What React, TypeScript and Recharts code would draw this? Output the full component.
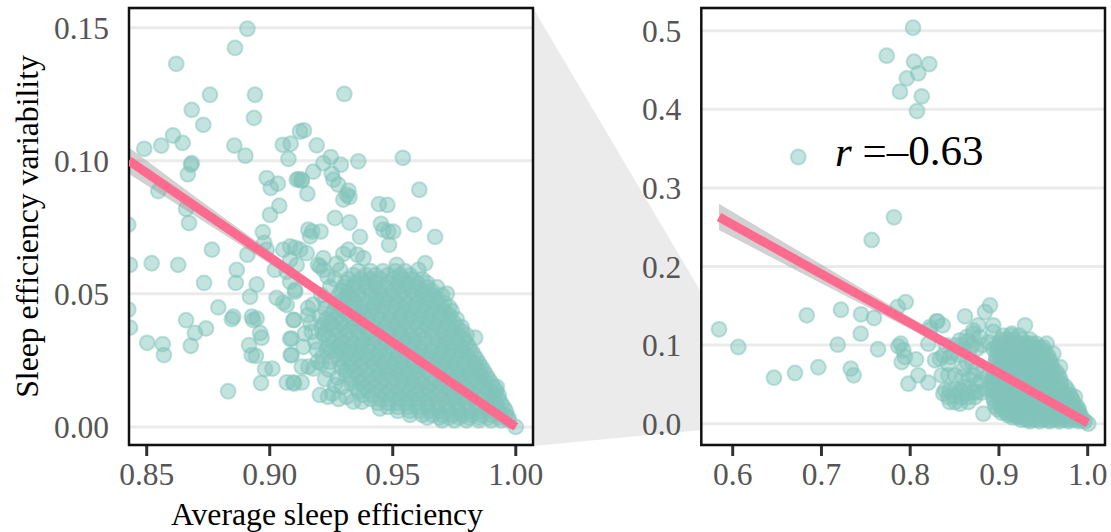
import React from 'react'
import {
  ComposedChart,
  Scatter,
  Line,
  Area,
  XAxis,
  YAxis,
  CartesianGrid,
  ReferenceArea,
  ReferenceDot,
  Label
} from 'recharts'

type Pt = [number, number]
type Row = [number, number[]]

const leftXTicks = [0.85, 0.9, 0.95, 1]
const leftYTicks = [0, 0.05, 0.1, 0.15]
const rightXTicks = [0.6, 0.7, 0.8, 0.9, 1]
const rightYTicks = [0, 0.1, 0.2, 0.3, 0.4, 0.5]

// sparse points
const leftScatter: Pt[] = [
  [0.8909, 0.1496], [0.8859, 0.1424], [0.862, 0.1364], [0.8757, 0.1248], [0.894, 0.1248], [0.8683, 0.1191],
  [0.8936, 0.1161], [0.873, 0.1135], [0.8607, 0.1095], [0.8646, 0.1067], [0.849, 0.1045], [0.8559, 0.1057],
  [0.8856, 0.1057], [0.8901, 0.1019], [0.8683, 0.0991], [0.868, 0.0985], [0.8667, 0.0949], [0.8547, 0.0886],
  [0.866, 0.0819], [0.8672, 0.0766], [0.8425, 0.076], [0.8765, 0.0666], [0.8909, 0.0647], [0.8988, 0.0935],
  [0.9004, 0.0898], [0.9033, 0.0914], [0.9039, 0.0831], [0.9001, 0.0797], [0.8972, 0.0732], [0.8978, 0.0691],
  [0.8988, 0.0666], [0.9053, 0.106], [0.9085, 0.1064], [0.9076, 0.1007], [0.911, 0.0929], [0.913, 0.0929],
  [0.9123, 0.111], [0.9303, 0.1251], [0.9139, 0.1114], [0.9191, 0.1058], [0.9248, 0.1014], [0.9218, 0.0991],
  [0.9289, 0.0985], [0.936, 0.0998], [0.9541, 0.1011], [0.9177, 0.0959], [0.9117, 0.0931], [0.913, 0.0925],
  [0.9153, 0.0876], [0.9252, 0.0951], [0.9259, 0.0929], [0.9279, 0.091], [0.932, 0.0888], [0.9299, 0.0854],
  [0.9324, 0.0864], [0.9313, 0.0872], [0.9608, 0.0891], [0.9444, 0.0837], [0.9478, 0.0834], [0.9265, 0.0785],
  [0.9324, 0.0768], [0.9587, 0.076], [0.9452, 0.0763], [0.9462, 0.0741], [0.9482, 0.0734], [0.9502, 0.0734],
  [0.9485, 0.0684], [0.9672, 0.0714], [0.9367, 0.0714], [0.9157, 0.0741], [0.9173, 0.0734], [0.9207, 0.0734],
  [0.9164, 0.0716], [0.932, 0.0666], [0.9299, 0.065], [0.9381, 0.0634], [0.9356, 0.0647], [0.9083, 0.0678],
  [0.9123, 0.0666], [0.915, 0.0653], [0.9218, 0.0634], [0.9516, 0.0609], [0.9632, 0.0615], [0.9604, 0.059],
  [0.9205, 0.0603], [0.9286, 0.059], [0.8432, 0.0609], [0.852, 0.0615], [0.8628, 0.0609], [0.8866, 0.059],
  [0.9055, 0.0666], [0.9103, 0.0673], [0.9021, 0.059], [0.9083, 0.0628], [0.8733, 0.0541], [0.8862, 0.0541],
  [0.8947, 0.0535], [0.892, 0.0489], [0.9083, 0.0545], [0.9103, 0.0508], [0.9028, 0.0485], [0.9055, 0.0467],
  [0.8791, 0.0449], [0.8425, 0.0441], [0.8432, 0.0373], [0.866, 0.0401], [0.8741, 0.037], [0.8696, 0.0353],
  [0.8679, 0.0305], [0.8502, 0.0316], [0.8565, 0.0311], [0.857, 0.027], [0.8852, 0.0414], [0.8846, 0.0405],
  [0.8927, 0.0414], [0.8947, 0.0407], [0.8933, 0.0401], [0.8961, 0.0353], [0.8967, 0.0335], [0.8916, 0.0307],
  [0.8927, 0.027], [0.8944, 0.0267], [0.8981, 0.0217], [0.9011, 0.0219], [0.8965, 0.0165], [0.8831, 0.0134],
  [0.9069, 0.0167], [0.9099, 0.0163], [0.9096, 0.0401], [0.9089, 0.0332], [0.9085, 0.027], [0.913, 0.0226],
  [0.9069, 0.0458], [0.9103, 0.0515], [0.9156, 0.0447], [0.9156, 0.042], [0.9099, 0.0402], [0.9083, 0.0331],
  [0.9089, 0.027], [0.9096, 0.0167], [0.913, 0.0167], [0.9204, 0.012], [0.9237, 0.0113], [0.9313, 0.0113],
  [0.9374, 0.0094], [0.9448, 0.0069], [0.9265, 0.0158], [0.9293, 0.015], [0.9171, 0.0357], [0.9218, 0.0351],
  [0.9143, 0.0351], [0.9137, 0.0301], [0.9191, 0.029], [0.9232, 0.0294], [0.9157, 0.0226], [0.9177, 0.0219],
  [0.9211, 0.0238], [0.9245, 0.0244], [0.9069, 0.0583], [0.911, 0.0608], [0.9176, 0.0459], [0.9218, 0.059],
  [0.9272, 0.0613], [0.9196, 0.0609], [0.972, 0.0501], [0.9835, 0.0335], [0.9923, 0.015], [1.0, 0.0],
  [0.9165, 0.039], [0.9205, 0.0415], [0.9225, 0.0445], [0.922, 0.0385], [0.9185, 0.032], [0.9215, 0.0265],
  [0.9195, 0.0245], [0.9225, 0.018], [0.924, 0.0215], [0.9255, 0.0125], [0.9275, 0.0185], [0.921, 0.0495],
  [0.9245, 0.0525], [0.9265, 0.0555], [0.9235, 0.0565], [0.9225, 0.0475], [0.928, 0.0105], [0.934, 0.0095]
]

// dense part of the left cloud, one estimated row per y value
const leftCloud: Row[] = [
  [0.0585, [0.936, 0.941, 0.946, 0.951, 0.955]],
  [0.057, [0.934, 0.939, 0.943, 0.948, 0.953, 0.957]],
  [0.0555, [0.932, 0.937, 0.941, 0.945, 0.95, 0.954, 0.958, 0.962]],
  [0.054, [0.931, 0.935, 0.939, 0.943, 0.948, 0.952, 0.956, 0.96, 0.964]],
  [0.0525, [0.93, 0.934, 0.939, 0.943, 0.947, 0.952, 0.956, 0.96, 0.964, 0.968]],
  [0.051, [0.929, 0.932, 0.936, 0.941, 0.945, 0.95, 0.954, 0.958, 0.962, 0.966]],
  [0.0495, [0.928, 0.932, 0.936, 0.941, 0.945, 0.949, 0.953, 0.958, 0.962, 0.966, 0.97]],
  [0.048, [0.93, 0.934, 0.938, 0.943, 0.947, 0.951, 0.955, 0.96, 0.964, 0.968]],
  [0.0465, [0.927, 0.931, 0.935, 0.94, 0.944, 0.948, 0.952, 0.956, 0.96, 0.964, 0.968, 0.971]],
  [0.045, [0.929, 0.933, 0.937, 0.942, 0.946, 0.95, 0.954, 0.958, 0.962, 0.966, 0.97, 0.973]],
  [0.0435, [0.926, 0.93, 0.934, 0.938, 0.942, 0.946, 0.951, 0.955, 0.959, 0.963, 0.967, 0.971, 0.974]],
  [0.042, [0.925, 0.928, 0.932, 0.936, 0.94, 0.944, 0.949, 0.953, 0.957, 0.961, 0.965, 0.969, 0.973]],
  [0.0405, [0.923, 0.927, 0.932, 0.936, 0.94, 0.945, 0.949, 0.953, 0.957, 0.961, 0.965, 0.969, 0.973, 0.976]],
  [0.039, [0.925, 0.929, 0.934, 0.938, 0.942, 0.947, 0.951, 0.955, 0.959, 0.963, 0.967, 0.971, 0.975]],
  [0.0375, [0.921, 0.926, 0.93, 0.934, 0.938, 0.943, 0.947, 0.951, 0.955, 0.96, 0.964, 0.968, 0.972, 0.976, 0.978]],
  [0.036, [0.923, 0.928, 0.932, 0.936, 0.94, 0.945, 0.949, 0.953, 0.957, 0.962, 0.966, 0.97, 0.974, 0.978]],
  [0.0345, [0.922, 0.927, 0.931, 0.936, 0.94, 0.944, 0.949, 0.953, 0.957, 0.961, 0.966, 0.97, 0.974, 0.977, 0.98]],
  [0.033, [0.924, 0.929, 0.933, 0.938, 0.942, 0.946, 0.951, 0.955, 0.959, 0.963, 0.968, 0.972, 0.976, 0.979]],
  [0.0315, [0.926, 0.93, 0.934, 0.938, 0.942, 0.947, 0.951, 0.955, 0.959, 0.963, 0.968, 0.972, 0.976, 0.98]],
  [0.03, [0.924, 0.928, 0.932, 0.936, 0.94, 0.945, 0.949, 0.953, 0.957, 0.961, 0.966, 0.97, 0.974, 0.978, 0.981]],
  [0.0285, [0.925, 0.929, 0.933, 0.937, 0.941, 0.945, 0.95, 0.954, 0.958, 0.962, 0.966, 0.97, 0.974, 0.978, 0.982]],
  [0.027, [0.927, 0.931, 0.935, 0.939, 0.943, 0.947, 0.952, 0.956, 0.96, 0.964, 0.968, 0.972, 0.976, 0.98, 0.983]],
  [0.0255, [0.928, 0.932, 0.936, 0.94, 0.944, 0.948, 0.952, 0.956, 0.961, 0.965, 0.969, 0.973, 0.977, 0.981, 0.984]],
  [0.024, [0.93, 0.934, 0.938, 0.942, 0.946, 0.95, 0.954, 0.958, 0.963, 0.967, 0.971, 0.975, 0.979, 0.983, 0.985]],
  [0.0225, [0.929, 0.933, 0.937, 0.942, 0.946, 0.95, 0.954, 0.958, 0.962, 0.967, 0.971, 0.975, 0.979, 0.983, 0.986]],
  [0.021, [0.931, 0.935, 0.939, 0.944, 0.948, 0.952, 0.956, 0.96, 0.964, 0.969, 0.973, 0.977, 0.981, 0.985, 0.987]],
  [0.0195, [0.931, 0.936, 0.94, 0.944, 0.948, 0.952, 0.956, 0.96, 0.965, 0.969, 0.973, 0.977, 0.981, 0.985, 0.988]],
  [0.018, [0.933, 0.938, 0.942, 0.946, 0.95, 0.954, 0.958, 0.962, 0.967, 0.971, 0.975, 0.979, 0.983, 0.987, 0.989]],
  [0.0165, [0.933, 0.937, 0.941, 0.945, 0.95, 0.954, 0.958, 0.962, 0.966, 0.97, 0.974, 0.978, 0.982, 0.986, 0.99]],
  [0.015, [0.935, 0.939, 0.943, 0.947, 0.952, 0.956, 0.96, 0.964, 0.968, 0.972, 0.976, 0.98, 0.984, 0.988, 0.991]],
  [0.0135, [0.936, 0.94, 0.945, 0.949, 0.953, 0.957, 0.961, 0.965, 0.969, 0.973, 0.977, 0.981, 0.985, 0.989, 0.992]],
  [0.012, [0.938, 0.942, 0.947, 0.951, 0.955, 0.959, 0.963, 0.967, 0.971, 0.975, 0.979, 0.983, 0.987, 0.991, 0.993]],
  [0.0105, [0.941, 0.945, 0.949, 0.953, 0.957, 0.961, 0.965, 0.97, 0.974, 0.978, 0.982, 0.986, 0.99, 0.993]],
  [0.009, [0.944, 0.948, 0.952, 0.956, 0.96, 0.964, 0.968, 0.972, 0.976, 0.98, 0.984, 0.988, 0.992, 0.994]],
  [0.0075, [0.948, 0.952, 0.956, 0.96, 0.964, 0.968, 0.972, 0.976, 0.98, 0.984, 0.988, 0.992, 0.995]],
  [0.006, [0.952, 0.957, 0.961, 0.965, 0.969, 0.973, 0.977, 0.981, 0.985, 0.989, 0.993, 0.996]],
  [0.0045, [0.957, 0.962, 0.966, 0.97, 0.974, 0.978, 0.982, 0.986, 0.99, 0.994, 0.996]],
  [0.0035, [0.964, 0.969, 0.973, 0.977, 0.981, 0.985, 0.989, 0.993, 0.997]],
  [0.0025, [0.97, 0.975, 0.98, 0.985, 0.99, 0.994, 0.997]]
]

const rightScatter: Pt[] = [
  [0.8032, 0.5038], [0.7735, 0.4682], [0.8043, 0.4606], [0.8215, 0.4576], [0.8091, 0.4458], [0.7961, 0.4394],
  [0.7885, 0.4224], [0.813, 0.4165], [0.8077, 0.3978], [0.6739, 0.3393], [0.7817, 0.2626], [0.7566, 0.2337],
  [0.5846, 0.1201], [0.6063, 0.0976], [0.6465, 0.0585], [0.6702, 0.0645], [0.6965, 0.0718], [0.6834, 0.1379],
  [0.722, 0.145], [0.7446, 0.1392], [0.7592, 0.1345], [0.7442, 0.1145], [0.7183, 0.1005], [0.7637, 0.0947],
  [0.733, 0.07], [0.7363, 0.0616], [0.7859, 0.1485], [0.7949, 0.1548], [0.7893, 0.1018], [0.7866, 0.0985],
  [0.7922, 0.0934], [0.7904, 0.0785], [0.7941, 0.0849], [0.8065, 0.0819], [0.8091, 0.0616], [0.7979, 0.0509],
  [0.8204, 0.0522], [0.8204, 0.1018], [0.8223, 0.123], [0.8298, 0.1303], [0.8306, 0.1303], [0.8366, 0.1252],
  [0.8223, 0.1192], [0.8336, 0.0827], [0.828, 0.0807], [0.8373, 0.087], [0.8429, 0.0763], [0.8355, 0.0616],
  [0.8429, 0.0616], [0.8505, 0.0616], [0.8591, 0.0594], [0.8663, 0.0573], [0.8392, 0.0425], [0.8373, 0.0382],
  [0.8429, 0.034], [0.8505, 0.0276], [0.8561, 0.0254], [0.8655, 0.0276], [0.873, 0.034], [0.8617, 0.1366],
  [0.8899, 0.1506], [0.8843, 0.1421], [0.8936, 0.1252], [0.8936, 0.1167], [0.8767, 0.1252], [0.8711, 0.1188],
  [0.9294, 0.1252], [0.9538, 0.1018], [0.9613, 0.0891], [0.9688, 0.0721], [0.9857, 0.034], [1.0007, 0.0],
  [0.8824, 0.0127], [0.8561, 0.1061], [0.8637, 0.1103], [0.8711, 0.1145], [0.8505, 0.0997], [0.8598, 0.0954],
  [0.8663, 0.0912], [0.875, 0.0954], [0.8637, 0.0785], [0.888, 0.1039], [0.8936, 0.0954], [0.9144, 0.1145],
  [0.8787, 0.053], [0.8711, 0.0616], [0.8824, 0.0658], [0.8862, 0.0445], [0.875, 0.0403], [0.8637, 0.0382],
  [0.8561, 0.0425], [0.8445, 0.0425], [0.8505, 0.0352], [0.8575, 0.0335], [0.8645, 0.0335], [0.8715, 0.0405],
  [0.8445, 0.0275], [0.8575, 0.0405], [0.8505, 0.0435], [0.8615, 0.0465], [0.8745, 0.0495], [0.8805, 0.0395],
  [0.858, 0.1], [0.865, 0.105], [0.87, 0.1], [0.878, 0.11], [0.882, 0.1], [0.855, 0.088],
  [0.848, 0.09], [0.86, 0.07], [0.87, 0.078], [0.875, 0.07], [0.888, 0.06], [0.845, 0.085], [0.84, 0.1]
]

const rightCloud: Row[] = [
  [0.112, [0.905, 0.914, 0.923]],
  [0.107, [0.902, 0.909, 0.917, 0.926, 0.935]],
  [0.102, [0.9, 0.906, 0.911, 0.916, 0.921, 0.927, 0.932, 0.937, 0.942]],
  [0.097, [0.899, 0.904, 0.91, 0.915, 0.921, 0.926, 0.931, 0.936, 0.941, 0.946, 0.95]],
  [0.092, [0.898, 0.903, 0.908, 0.913, 0.919, 0.924, 0.93, 0.936, 0.941, 0.946, 0.951]],
  [0.087, [0.897, 0.902, 0.907, 0.912, 0.918, 0.923, 0.929, 0.934, 0.94, 0.945, 0.95, 0.955]],
  [0.082, [0.897, 0.902, 0.907, 0.912, 0.918, 0.923, 0.929, 0.934, 0.94, 0.945, 0.95, 0.954, 0.957]],
  [0.077, [0.896, 0.901, 0.906, 0.912, 0.917, 0.923, 0.928, 0.934, 0.939, 0.945, 0.95, 0.955, 0.959]],
  [0.072, [0.896, 0.901, 0.906, 0.911, 0.917, 0.922, 0.928, 0.933, 0.939, 0.944, 0.95, 0.955, 0.96]],
  [0.067, [0.895, 0.9, 0.905, 0.911, 0.916, 0.922, 0.927, 0.933, 0.938, 0.944, 0.949, 0.955, 0.96, 0.964]],
  [0.062, [0.894, 0.899, 0.905, 0.91, 0.916, 0.921, 0.927, 0.932, 0.938, 0.943, 0.949, 0.954, 0.96, 0.967]],
  [0.057, [0.893, 0.899, 0.904, 0.91, 0.915, 0.921, 0.926, 0.932, 0.937, 0.943, 0.948, 0.954, 0.96, 0.965, 0.969]],
  [0.052, [0.893, 0.898, 0.904, 0.909, 0.915, 0.92, 0.926, 0.931, 0.937, 0.942, 0.948, 0.953, 0.959, 0.965, 0.97]],
  [0.047, [0.893, 0.898, 0.904, 0.909, 0.915, 0.92, 0.926, 0.931, 0.937, 0.942, 0.948, 0.953, 0.959, 0.965, 0.97, 0.975]],
  [0.042, [0.893, 0.898, 0.904, 0.909, 0.915, 0.92, 0.926, 0.931, 0.937, 0.942, 0.948, 0.953, 0.959, 0.965, 0.97, 0.978]],
  [0.037, [0.893, 0.899, 0.905, 0.91, 0.916, 0.921, 0.927, 0.932, 0.938, 0.943, 0.949, 0.954, 0.96, 0.966, 0.971, 0.976, 0.98]],
  [0.032, [0.894, 0.9, 0.905, 0.911, 0.916, 0.922, 0.927, 0.933, 0.938, 0.944, 0.949, 0.955, 0.96, 0.966, 0.971, 0.977, 0.982]],
  [0.027, [0.895, 0.901, 0.906, 0.912, 0.917, 0.923, 0.928, 0.934, 0.939, 0.945, 0.95, 0.956, 0.961, 0.967, 0.972, 0.978, 0.984]],
  [0.022, [0.896, 0.902, 0.907, 0.913, 0.918, 0.924, 0.929, 0.935, 0.94, 0.946, 0.951, 0.957, 0.962, 0.968, 0.973, 0.979, 0.984, 0.988]],
  [0.018, [0.899, 0.905, 0.91, 0.916, 0.921, 0.927, 0.932, 0.938, 0.943, 0.949, 0.954, 0.96, 0.965, 0.971, 0.976, 0.982, 0.987, 0.99]],
  [0.014, [0.903, 0.909, 0.914, 0.92, 0.925, 0.931, 0.936, 0.942, 0.947, 0.953, 0.958, 0.964, 0.969, 0.975, 0.98, 0.986, 0.99]],
  [0.011, [0.91, 0.916, 0.921, 0.927, 0.932, 0.938, 0.943, 0.949, 0.954, 0.96, 0.965, 0.971, 0.976, 0.982, 0.987, 0.992]],
  [0.008, [0.915, 0.921, 0.926, 0.932, 0.937, 0.943, 0.948, 0.954, 0.959, 0.965, 0.97, 0.976, 0.981, 0.987, 0.992]],
  [0.005, [0.925, 0.931, 0.937, 0.943, 0.949, 0.955, 0.961, 0.967, 0.973, 0.979, 0.985, 0.991, 0.995]],
  [0.003, [0.935, 0.946, 0.957, 0.968, 0.979, 0.99, 0.997]]
]

// regression fit and its confidence band
const leftFit = [
  { x: 0.8428, fit: 0.1, band: [0.095, 0.105] },
  { x: 0.87, fit: 0.0827, band: [0.0791, 0.0863] },
  { x: 0.9, fit: 0.0637, band: [0.0613, 0.0661] },
  { x: 0.93, fit: 0.0445, band: [0.0432, 0.0458] },
  { x: 0.96, fit: 0.0254, band: [0.0245, 0.0263] },
  { x: 1, fit: 0, band: [-0.0012, 0.0012] }
]

const rightFit = [
  { x: 0.5845, fit: 0.263, band: [0.2463, 0.2797] },
  { x: 0.7, fit: 0.1905, band: [0.1785, 0.2025] },
  { x: 0.8, fit: 0.128, band: [0.1205, 0.1355] },
  { x: 0.9, fit: 0.0645, band: [0.06, 0.069] },
  { x: 1, fit: 0.001, band: [-0.003, 0.005] }
]

const toPoints = (scatter: Pt[], cloud: Row[]) => [
  ...scatter.map(([x, y]) => ({ x, y })),
  ...cloud.flatMap(([y, xs]) => xs.map(x => ({ x, y })))
]

const SERIF = '"Liberation Serif", serif'
const tickStyle = { fontFamily: SERIF, fontSize: 31.5, fill: '#555555' }
const titleStyle = { fontFamily: SERIF, fontSize: 31.7, fill: '#000' }

const Dot = (props: any) => (
  <circle
    cx={props.cx}
    cy={props.cy}
    r={7.4}
    fill="#82c4bb"
    fillOpacity={0.48}
    stroke="#82c4bb"
    strokeOpacity={0.5}
    strokeWidth={2}
  />
)

const RLabel = (props: any) => {
  const { x, y } = props.viewBox
  return (
    <text x={x} y={y} textAnchor="middle" dominantBaseline="central" fontFamily={SERIF} fontSize={43} fill="#000">
      <tspan fontStyle="italic">r</tspan> =–0.63
    </text>
  )
}

interface PanelProps {
  width: number
  yAxisWidth: number
  marginRight: number
  xDomain: [number, number]
  yDomain: [number, number]
  xTicks: number[]
  yTicks: number[]
  digits: number
  points: { x: number; y: number }[]
  fit: { x: number; fit: number; band: number[] }[]
  xTitle?: string
  yTitle?: string
  children?: React.ReactNode
}

// two stacked charts: recharts paints scatter above line and area, the fit has to sit on top
function Panel(p: PanelProps) {
  return (
    <div style={{ position: 'relative', width: p.width, height: 532 }}>
      <div style={{ position: 'absolute', left: 0, top: 0 }}>
        <ComposedChart
          width={p.width}
          height={532}
          margin={{ top: 8, right: p.marginRight, bottom: 0, left: 0 }}
        >
          <CartesianGrid horizontal vertical={false} stroke="#ebebeb" strokeWidth={3} />
          <XAxis
            type="number"
            dataKey="x"
            domain={p.xDomain}
            ticks={p.xTicks}
            allowDataOverflow
            height={87}
            interval={0}
            tick={tickStyle}
            tickSize={11}
            tickMargin={7}
            tickLine={{ stroke: '#333333', strokeWidth: 3 }}
            axisLine={false}
            tickFormatter={(v: number) => v.toFixed(p.digits)}
          >
            {p.xTitle && <Label value={p.xTitle} position="insideBottom" offset={7} dx={-4} style={titleStyle} />}
          </XAxis>
          <YAxis
            type="number"
            domain={p.yDomain}
            ticks={p.yTicks}
            allowDataOverflow
            width={p.yAxisWidth}
            interval={0}
            tick={tickStyle}
            tickSize={0}
            tickMargin={20}
            axisLine={false}
            tickLine={false}
            tickFormatter={(v: number) => v.toFixed(p.digits)}
          >
            {p.yTitle && (
              <Label
                value={p.yTitle}
                angle={-90}
                position="insideLeft"
                offset={27}
                style={{ ...titleStyle, textAnchor: 'middle' }}
              />
            )}
          </YAxis>
          <Scatter data={p.points} dataKey="y" shape={Dot} isAnimationActive={false} />
        </ComposedChart>
      </div>
      <div style={{ position: 'absolute', left: 0, top: 0 }}>
        <ComposedChart
          width={p.width}
          height={532}
          data={p.fit}
          margin={{ top: 8, right: p.marginRight, bottom: 87, left: p.yAxisWidth }}
        >
          <XAxis type="number" dataKey="x" domain={p.xDomain} allowDataOverflow hide />
          <YAxis type="number" domain={p.yDomain} allowDataOverflow hide />
          <Area dataKey="band" type="linear" fill="#999999" fillOpacity={0.45} stroke="none" dot={false} activeDot={false} isAnimationActive={false} />
          <Line dataKey="fit" type="linear" stroke="#ff6b8f" strokeWidth={9} dot={false} activeDot={false} isAnimationActive={false} />
          <ReferenceArea
            x1={p.xDomain[0]}
            x2={p.xDomain[1]}
            y1={p.yDomain[0]}
            y2={p.yDomain[1]}
            fill="none"
            stroke="#111111"
            strokeWidth={2.5}
            ifOverflow="visible"
          />
          {p.children}
        </ComposedChart>
      </div>
    </div>
  )
}

export default function App() {
  return (
    <div style={{ position: 'absolute', left: 0, top: 0, width: 1111, height: 532, overflow: 'hidden', background: '#fff' }}>
      {/* zoom wedge between the two panels */}
      <svg width={1111} height={532} style={{ position: 'absolute', left: 0, top: 0 }}>
        <polygon points="533,8 701,292 701,430 533,446" fill="#ebebeb" />
      </svg>
      <div style={{ position: 'absolute', left: 0, top: 0 }}>
        <Panel
          width={560}
          yAxisWidth={129}
          marginRight={27}
          xDomain={[0.8428, 1.007]}
          yDomain={[-0.0068, 0.1574]}
          xTicks={leftXTicks}
          yTicks={leftYTicks}
          digits={2}
          points={toPoints(leftScatter, leftCloud)}
          fit={leftFit}
          xTitle="Average sleep efficiency"
          yTitle="Sleep efficiency variability"
        />
      </div>
      <div style={{ position: 'absolute', left: 600, top: 0 }}>
        <Panel
          width={511}
          yAxisWidth={101.3}
          marginRight={6}
          xDomain={[0.5646, 1.0195]}
          yDomain={[-0.0271, 0.5289]}
          xTicks={rightXTicks}
          yTicks={rightYTicks}
          digits={1}
          points={toPoints(rightScatter, rightCloud)}
          fit={rightFit}
        >
          <ReferenceDot x={0.799} y={0.347} r={0} fill="none" stroke="none" ifOverflow="visible">
            <Label content={RLabel} />
          </ReferenceDot>
        </Panel>
      </div>
    </div>
  )
}
